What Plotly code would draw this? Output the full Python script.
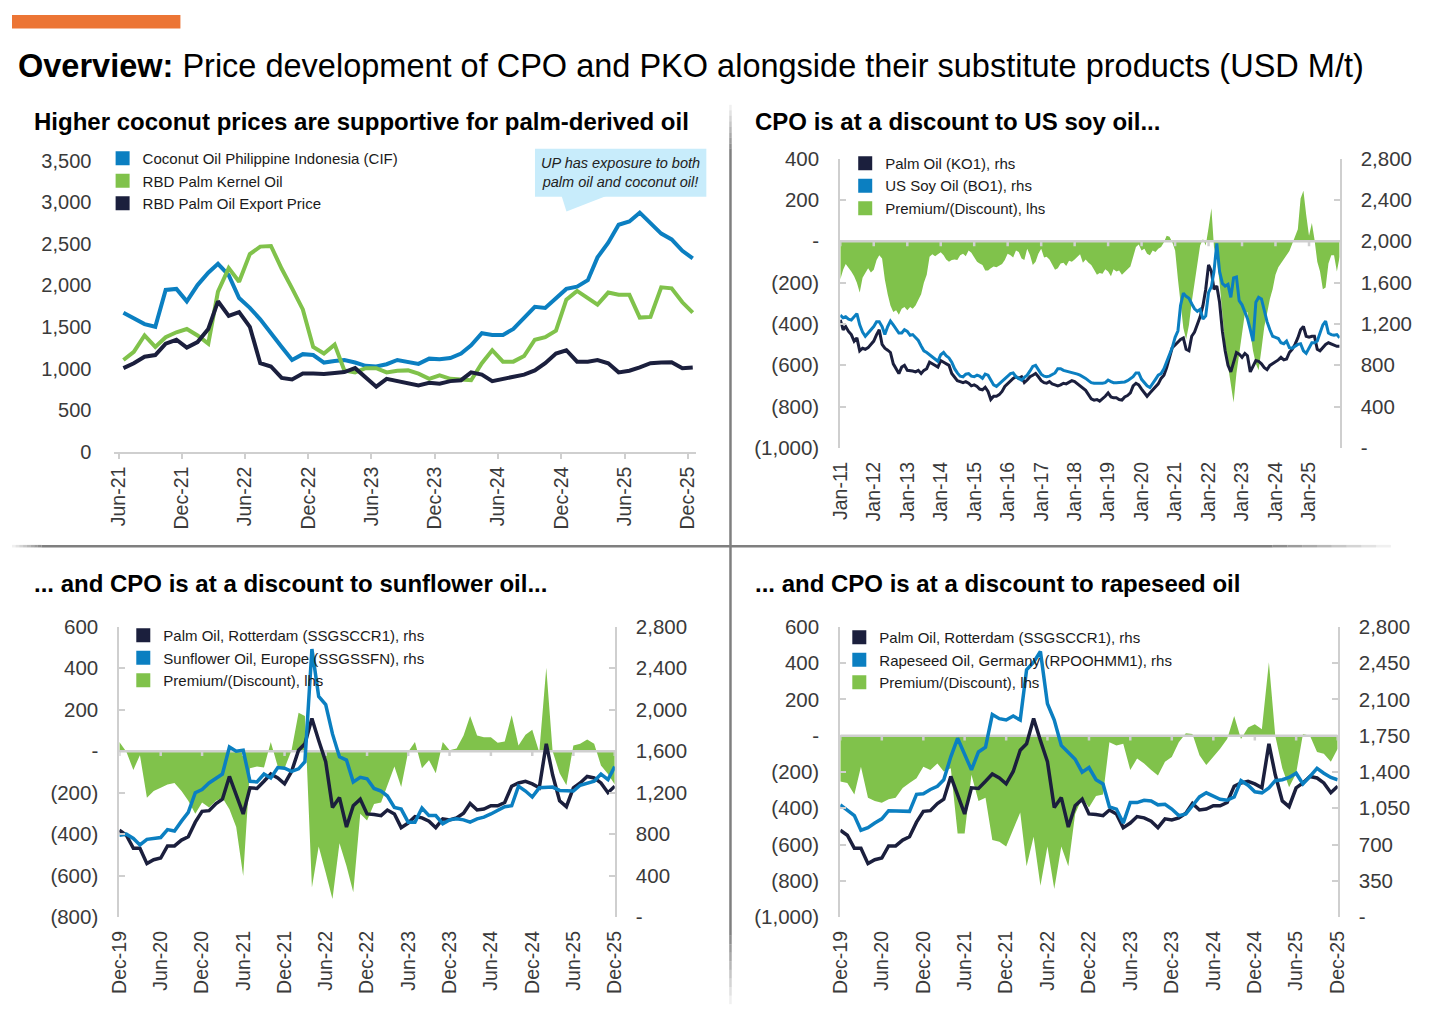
import pandas as pd
import plotly.graph_objects as go

W, H = 1456, 1020

NAVY = '#1b1f3d'
BLUE = '#0b7fc1'
GREEN = '#80c24b'
AXIS = '#cfcfcf'
TXT = '#3a3a3a'
FONT = 'Liberation Sans, Arial, sans-serif'

# chart 1 - monthly, Jun-21 .. Dec-25 (USD/t)
coconut_months = pd.date_range('2021-06-01', '2025-12-01', freq='MS') + pd.Timedelta(days=14)
coconut_ticks = pd.date_range('2021-06-01', '2025-12-01', freq='6MS')
coconut_oil = [1672, 1605, 1535, 1503, 1946, 1958, 1809, 2004, 2153, 2259, 2122, 1848, 1730, 1593, 1417,
               1261, 1104, 1174, 1163, 1073, 1092, 1104, 1073, 1034, 1026, 1053, 1104, 1077, 1057, 1120,
               1112, 1128, 1182, 1280, 1425, 1405, 1405, 1476, 1613, 1742, 1730, 1848, 1958, 1985, 2063,
               2337, 2513, 2729, 2768, 2874, 2756, 2623, 2553, 2416, 2325]
palm_kernel_oil = [1104, 1202, 1398, 1261, 1378, 1437, 1476, 1398, 1300, 1926, 2208, 2044, 2376, 2466, 2474,
                   2200, 1965, 1711, 1261, 1182, 1288, 979, 955, 1006, 1006, 955, 975, 979, 940, 877,
                   920, 877, 869, 861, 1065, 1221, 1084, 1084, 1151, 1347, 1378, 1456, 1828, 1934, 1848,
                   1770, 1914, 1887, 1887, 1613, 1621, 1977, 1965, 1797, 1672]
palm_oil_export = [1006, 1065, 1143, 1163, 1300, 1347, 1253, 1319, 1476, 1809, 1633, 1680, 1503, 1065, 1026,
                   889, 869, 940, 940, 936, 947, 959, 1006, 889, 783, 877, 850, 822, 799, 830,
                   818, 850, 861, 955, 928, 850, 877, 897, 928, 979, 1065, 1182, 1221, 1084, 1084,
                   1104, 1065, 955, 975, 1014, 1065, 1073, 1077, 1006, 1014]

# chart 2 - monthly, Jan-11 .. Dec-25
soy_months = pd.date_range('2011-01-01', '2025-12-01', freq='MS')
soy_ticks = pd.date_range('2011-01-01', '2025-01-01', freq='YS')
palm_ko1 = [1238, 1144, 1175, 1128, 1097, 1034, 1065, 940, 965, 955,
            971, 1002, 1034, 1097, 1144, 1002, 965, 946, 924, 814,
            767, 720, 783, 799, 751, 751, 745, 736, 751, 720,
            751, 767, 830, 814, 799, 783, 846, 830, 814, 799,
            720, 689, 651, 642, 632, 642, 626, 601, 610, 595,
            570, 563, 588, 547, 469, 500, 500, 516, 547, 595,
            620, 651, 673, 689, 673, 689, 632, 657, 689, 704,
            720, 689, 651, 632, 626, 642, 620, 610, 601, 610,
            626, 620, 632, 651, 642, 620, 601, 570, 557, 516,
            475, 463, 469, 453, 475, 500, 532, 494, 485, 485,
            469, 463, 494, 507, 532, 601, 626, 610, 570, 538,
            500, 532, 563, 595, 620, 673, 704, 777, 877, 971,
            996, 1028, 1050, 1065, 955, 940, 1081, 1122, 1191, 1269,
            1379, 1536, 1771, 1708, 1536, 1567, 1410, 1128, 940, 799,
            736, 830, 924, 908, 877, 915, 893, 736, 783, 846,
            839, 814, 777, 758, 799, 814, 830, 852, 877, 852,
            861, 924, 955, 1002, 1065, 1144, 1175, 1081, 1071, 1081,
            1081, 955, 940, 977, 1002, 1018, 1009, 993, 984, 984]
soy_bo1 = [1285, 1260, 1269, 1247, 1238, 1269, 1300, 1191, 1122, 1081,
           1112, 1153, 1175, 1222, 1222, 1175, 1097, 1175, 1228, 1191,
           1144, 1112, 1112, 1144, 1128, 1090, 1097, 1071, 1040, 987,
           940, 924, 902, 883, 861, 839, 902, 924, 893, 871,
           830, 767, 726, 695, 689, 714, 720, 695, 689, 704,
           695, 673, 714, 704, 657, 610, 595, 620, 642, 673,
           689, 720, 726, 689, 673, 657, 683, 704, 745, 789,
           799, 751, 714, 695, 689, 695, 714, 726, 767, 767,
           751, 745, 736, 726, 720, 714, 704, 689, 673, 651,
           632, 626, 626, 620, 626, 632, 657, 642, 632, 632,
           632, 632, 639, 651, 670, 689, 726, 726, 664, 626,
           601, 585, 620, 664, 704, 720, 767, 830, 893, 971,
           1071, 1134, 1379, 1498, 1467, 1448, 1395, 1347, 1322, 1341,
           1247, 1278, 1504, 1561, 1708, 1980, 1708, 1592, 1567, 1583,
           1457, 1646, 1655, 1426, 1385, 1316, 1253, 1144, 1034, 1410,
           1457, 1442, 1332, 1222, 1144, 1081, 1071, 1059, 1018, 1009,
           1034, 971, 965, 984, 1002, 1009, 940, 915, 971, 1018,
           1018, 1034, 1112, 1191, 1228, 1112, 1097, 1090, 1097, 1065]
soy_premium = [-185, -138, -110, -126, -146, -169, -201, -248, -177, -154,
               -130, -151, -138, -91, -67, -83, -185, -256, -311, -342,
               -334, -355, -326, -318, -334, -318, -326, -311, -282, -256,
               -201, -162, -75, -63, -72, -63, -53, -67, -88, -99,
               -91, -88, -91, -67, -60, -72, -44, -56, -75, -99,
               -107, -115, -141, -141, -130, -122, -126, -119, -110, -91,
               -60, -67, -78, -44, -52, -83, -91, -36, -67, -115,
               -99, -60, -36, -78, -75, -88, -115, -138, -130, -107,
               -104, -119, -94, -99, -88, -72, -63, -104, -88, -104,
               -115, -138, -162, -154, -157, -135, -146, -169, -135, -146,
               -141, -162, -146, -135, -122, -72, -28, -16, -44, -36,
               -60, -67, -44, -52, -36, -28, -5, 27, 22, -5,
               -44, -185, -311, -420, -475, -405, -295, -201, -91, -20,
               11, -20, 66, 160, -28, -83, -201, -350, -499, -601,
               -703, -780, -640, -538, -452, -350, -342, -436, -530, -593,
               -624, -522, -413, -350, -279, -232, -162, -126, -107, -83,
               -63, -47, -13, 19, 58, 207, 245, 129, 27, 89,
               11, -99, -146, -232, -224, -107, -67, -67, -146, -75]

# charts 3 and 4 - monthly, Dec-19 .. Dec-25
eu_months = pd.date_range('2019-12-01', '2025-12-01', freq='MS')
eu_ticks = pd.date_range('2019-12-01', '2025-12-01', freq='6MS')
palm_rotterdam = [838, 790, 664, 664, 516, 554, 570, 687, 687, 743,
                  775, 916, 1020, 1027, 1096, 1137, 1357, 1168, 995, 1247,
                  1241, 1310, 1380, 1342, 1285, 1405, 1609, 1672, 1915, 1704,
                  1499, 1058, 1153, 869, 1074, 1137, 995, 989, 979, 1033,
                  995, 863, 907, 970, 957, 926, 863, 948, 938, 957,
                  1002, 1096, 1033, 1042, 1074, 1074, 1105, 1263, 1294, 1310,
                  1285, 1247, 1672, 1373, 1121, 1065, 1247, 1294, 1357, 1342,
                  1294, 1200, 1263]
sunflower_oil = [790, 800, 759, 696, 750, 759, 768, 844, 831, 926,
                 1011, 1200, 1231, 1294, 1342, 1380, 1641, 1600, 1609, 1310,
                 1304, 1380, 1342, 1443, 1436, 1405, 1430, 1499, 2586, 2129,
                 2050, 1767, 1546, 1515, 1304, 1348, 1335, 1241, 1216, 1168,
                 1058, 1042, 916, 916, 1052, 979, 979, 901, 938, 948,
                 938, 916, 948, 964, 995, 1033, 1065, 1074, 1263, 1216,
                 1159, 1247, 1254, 1254, 1222, 1216, 1216, 1272, 1294, 1310,
                 1380, 1326, 1452]
sunflower_premium = [44, -3, -90, -19, -224, -192, -176, -161, -153, -192,
                     -239, -302, -247, -271, -239, -224, -280, -365, -602, -82,
                     -74, -79, 44, -74, -82, 5, 186, 170, -657, -460,
                     -586, -712, -444, -554, -680, -302, -334, -255, -247, -161,
                     -74, -173, -3, 44, -82, -43, -106, 44, 5, 13,
                     76, 170, 76, 68, 68, 41, 47, 173, 28, 79,
                     104, -5, 403, 0, -106, -164, 28, 36, 57, 36,
                     -69, -110, -161]
rapeseed_oil = [1083, 1033, 979, 838, 863, 907, 948, 1026, 1026, 1020,
                1020, 1184, 1190, 1231, 1262, 1325, 1546, 1725, 1561, 1420,
                1593, 1640, 1954, 1914, 1901, 1939, 1901, 2386, 2458, 2562,
                2058, 1901, 1656, 1593, 1523, 1398, 1442, 1325, 1284, 1064,
                1042, 907, 1105, 1105, 1127, 1121, 1083, 1089, 1042, 979,
                995, 1074, 1159, 1199, 1168, 1137, 1127, 1159, 1316, 1272,
                1209, 1199, 1247, 1316, 1325, 1347, 1388, 1284, 1357, 1435,
                1388, 1347, 1325]
rapeseed_premium = [-252, -261, -324, -171, -342, -360, -369, -351, -342, -288,
                    -261, -234, -171, -189, -153, -198, -180, -539, -539, -216,
                    -360, -342, -575, -584, -611, -521, -423, -719, -557, -827,
                    -611, -845, -611, -719, -432, -342, -396, -333, -324, -36,
                    -54, -45, -189, -126, -153, -189, -219, -144, -117, -36,
                    14, 9, -108, -162, -117, -72, -18, 108, -18, 45,
                    63, 36, 405, 0, -180, -284, -207, 9, 0, -90,
                    -99, -144, -72]


def num(v):
    return '-' if v == 0 else f'{v:,}'


def acct(v):
    if v == 0:
        return '-'
    return f'({-v:,})' if v < 0 else f'{v:,}'


def fx(x):
    return x / W


def fy(y):
    return 1 - y / H


def dom_x(a, b):
    return [fx(a), fx(b)]


def dom_y(top, bottom):
    return [fy(bottom), fy(top)]


def zero_rule(dates, ticks, tick_len):
    # zero line of the premium axis with the small date ticks hanging off it
    xs, ys = [dates[0], dates[-1]], [0, 0]
    for t in ticks:
        xs += [None, t, t]
        ys += [None, 0, -tick_len]
    return xs, ys


fig = go.Figure()

# ---- chart 1
for name, vals, col in [('Coconut Oil Philippine Indonesia (CIF)', coconut_oil, BLUE),
                        ('RBD Palm Kernel Oil', palm_kernel_oil, GREEN),
                        ('RBD Palm Oil Export Price', palm_oil_export, NAVY)]:
    fig.add_trace(go.Scatter(x=coconut_months, y=vals, mode='lines', line=dict(color=col, width=4),
                             showlegend=False, xaxis='x', yaxis='y'))

# ---- charts 2-4 (premium area on the left axis, prices on the right axis)
panels = [
    ('x2', 'y2', 'y3', 'legend2', soy_months, soy_ticks, soy_premium,
     [('Palm Oil (KO1), rhs', palm_ko1, NAVY), ('US Soy Oil (BO1), rhs', soy_bo1, BLUE)], [-1000, 400], 150, 446, 3),
    ('x3', 'y4', 'y5', 'legend3', eu_months, eu_ticks, sunflower_premium,
     [('Palm Oil, Rotterdam (SSGSCCR1), rhs', palm_rotterdam, NAVY),
      ('Sunflower Oil, Europe (SSGSSFN), rhs', sunflower_oil, BLUE)], [-800, 600], 629, 926, 3.5),
    ('x4', 'y6', 'y7', 'legend4', eu_months, eu_ticks, rapeseed_premium,
     [('Palm Oil, Rotterdam (SSGSCCR1), rhs', palm_rotterdam, NAVY),
      ('Rapeseed Oil, Germany (RPOOHMM1), rhs', rapeseed_oil, BLUE)], [-1000, 600], 629, 926, 3.5),
]
for xa, yl, yr, leg, dates, ticks, prem, lines, yrange, top, bottom, lw in panels:
    fig.add_trace(go.Scatter(x=dates, y=prem, mode='lines', fill='tozeroy', fillcolor=GREEN,
                             line=dict(width=0, color=GREEN), showlegend=False, xaxis=xa, yaxis=yl))
    tick_len = (yrange[1] - yrange[0]) / (bottom - top) * 5
    zx, zy = zero_rule(dates, ticks, tick_len)
    fig.add_trace(go.Scatter(x=zx, y=zy, mode='lines', line=dict(color=AXIS, width=2.5),
                             showlegend=False, xaxis=xa, yaxis=yl, hoverinfo='skip'))
    for name, vals, col in lines:
        fig.add_trace(go.Scatter(x=dates, y=vals, mode='lines', line=dict(color=col, width=lw),
                                 showlegend=False, xaxis=xa, yaxis=yr))
    for name, vals, col in lines + [('Premium/(Discount), lhs', None, GREEN)]:
        fig.add_trace(go.Scatter(x=[None], y=[None], mode='markers', name=name, legend=leg, legendgroup=leg + name,
                                 marker=dict(symbol='square', size=14, color=col), xaxis=xa, yaxis=yl))

for name, col in [('Coconut Oil Philippine Indonesia (CIF)', BLUE), ('RBD Palm Kernel Oil', GREEN),
                  ('RBD Palm Oil Export Price', NAVY)]:
    fig.add_trace(go.Scatter(x=[None], y=[None], mode='markers', name=name, legend='legend', legendgroup=name,
                             marker=dict(symbol='square', size=14, color=col), xaxis='x', yaxis='y'))

yfont1 = dict(family=FONT, size=20, color=TXT)
yfont = dict(family=FONT, size=20.5, color=TXT)
xfont = dict(family=FONT, size=19.5, color=TXT)


def date_axis(domain, anchor, rng, ticks, line):
    return dict(domain=domain, anchor=anchor, type='date', range=rng, tickvals=list(ticks),
                ticktext=[d.strftime('%b-%y') for d in ticks], tickangle=-90, tickfont=xfont,
                showgrid=False, zeroline=False, showline=line, linecolor=AXIS, linewidth=2,
                ticks='outside' if line else '', ticklen=5, tickcolor=AXIS, tickwidth=2,
                ticklabelstandoff=0 if line else 9)


def value_axis(vals, labels, rng, **kw):
    d = dict(range=rng, tickvals=vals, ticktext=labels, tickfont=yfont, showgrid=False, zeroline=False,
             showline=True, linecolor=AXIS, linewidth=2, ticks='inside', ticklen=6, tickcolor=AXIS,
             tickwidth=2, ticklabelstandoff=15)
    d.update(kw)
    return d


c1_y = list(range(0, 3501, 500))
c2_l = list(range(-1000, 401, 200))
c2_r = list(range(0, 2801, 400))
c3_l = list(range(-800, 601, 200))
c4_l = list(range(-1000, 601, 200))
c4_r = list(range(0, 2801, 350))

legend_style = dict(xanchor='left', yanchor='top', bgcolor='rgba(0,0,0,0)', tracegroupgap=0,
                    font=dict(family=FONT, size=15, color='#1a1a1a'), traceorder='normal')

fig.update_layout(
    width=W, height=H, margin=dict(l=0, r=0, t=0, b=0),
    paper_bgcolor='white', plot_bgcolor='white', font=dict(family=FONT),
    xaxis=date_axis(dom_x(104, 694), 'y', ['2021-05-20', '2025-12-23'], coconut_ticks, True),
    yaxis=dict(domain=dom_y(152, 450), anchor='x', range=[0, 3500], tickvals=c1_y,
               ticktext=[f'{v:,}' for v in c1_y], tickfont=yfont1, showgrid=False, zeroline=False,
               showline=False, ticks='', ticklabelstandoff=22),
    xaxis2=date_axis(dom_x(841, 1348), 'y2', [soy_months[0], soy_months[-1]], soy_ticks, False),
    yaxis2=value_axis(c2_l, [acct(v) for v in c2_l], [-1000, 400], domain=dom_y(150, 446), anchor='x2'),
    yaxis3=value_axis(c2_r, [num(v) for v in c2_r], [0, 2800], overlaying='y2', side='right', anchor='x2'),
    xaxis3=date_axis(dom_x(109, 612), 'y4', [eu_months[0], eu_months[-1]], eu_ticks, False),
    yaxis4=value_axis(c3_l, [acct(v) for v in c3_l], [-800, 600], domain=dom_y(629, 926), anchor='x3'),
    yaxis5=value_axis(c2_r, [num(v) for v in c2_r], [0, 2800], overlaying='y4', side='right', anchor='x3'),
    xaxis4=date_axis(dom_x(841, 1346), 'y6', [eu_months[0], eu_months[-1]], eu_ticks, False),
    yaxis6=value_axis(c4_l, [acct(v) for v in c4_l], [-1000, 600], domain=dom_y(629, 926), anchor='x4'),
    yaxis7=value_axis(c4_r, [num(v) for v in c4_r], [0, 2800], overlaying='y6', side='right', anchor='x4'),
    legend=dict(x=fx(92), y=fy(133), **legend_style),
    legend2=dict(x=fx(846), y=fy(138), **legend_style),
    legend3=dict(x=fx(113), y=fy(621), **legend_style),
    legend4=dict(x=fx(840), y=fy(623), **legend_style),
)

# titles
fig.add_annotation(text='<b>Overview:</b> Price development of CPO and PKO alongside their substitute products (USD M/t)',
                   x=fx(4), y=fy(55), xref='paper', yref='paper', xanchor='left', yanchor='middle',
                   showarrow=False, font=dict(family=FONT, size=32.5, color='black'))
for txt, px, py in [('Higher coconut prices are supportive for palm-derived oil', 20, 112),
                    ('CPO is at a discount to US soy oil...', 752, 112),
                    ('... and CPO is at a discount to sunflower oil...', 20, 585),
                    ('... and CPO is at a discount to rapeseed oil', 752, 585)]:
    fig.add_annotation(text=f'<b>{txt}</b>', x=fx(px), y=fy(py), xref='paper', yref='paper',
                       xanchor='left', yanchor='middle', showarrow=False,
                       font=dict(family=FONT, size=24, color='black'))

# callout
fig.add_shape(type='rect', xref='paper', yref='paper', x0=fx(531), x1=fx(705), y0=fy(189), y1=fy(140),
              fillcolor='#c8ecfb', line=dict(width=0))
fig.add_shape(type='path', xref='paper', yref='paper', fillcolor='#c8ecfb', line=dict(width=0),
              path=f'M {fx(558)} {fy(188)} L {fx(604)} {fy(188)} L {fx(563)} {fy(204)} Z')
fig.add_annotation(text='<i>UP has exposure to both<br>palm oil and coconut oil!</i>', x=fx(618), y=fy(164.5),
                   xref='paper', yref='paper', xanchor='center', yanchor='middle', showarrow=False,
                   font=dict(family=FONT, size=14.5, color='#222'))

# orange header bar
fig.add_shape(type='rect', xref='paper', yref='paper', x0=fx(0), x1=fx(171), y0=fy(17), y1=fy(3),
              fillcolor='#ec7535', line=dict(width=0))


# fading divider lines between the panels
def fade_line(x0, y0, x1, y1, fade_a, fade_b, n=8):
    horiz = y0 == y1
    length = (x1 - x0) if horiz else (y1 - y0)
    pieces = []
    for i in range(n):
        pieces.append((fade_a * i / n, fade_a * (i + 1) / n, (i + 1) / (n + 1)))
    pieces.append((fade_a, length - fade_b, 1.0))
    for i in range(n):
        pieces.append((length - fade_b * (n - i) / n, length - fade_b * (n - i - 1) / n, (n - i) / (n + 1)))
    for a, b, op in pieces:
        if horiz:
            c = dict(x0=fx(x0 + a), x1=fx(x0 + b), y0=fy(y0), y1=fy(y0))
        else:
            c = dict(x0=fx(x0), x1=fx(x0), y0=fy(y0 + a), y1=fy(y0 + b))
        fig.add_shape(type='line', xref='paper', yref='paper', line=dict(color='#7f7f7f', width=2.5),
                      opacity=op, **c)


fade_line(729.5, 95, 729.5, 1015, 45, 70)
fade_line(0, 546.5, 1400, 546.5, 30, 120)

page_reset = ("var s=document.createElement('style');"
              "s.innerHTML='html,body{margin:0 !important;padding:0 !important;overflow:hidden !important}';"
              "document.head.appendChild(s);")
fig.write_html('out.html', config={'displayModeBar': False}, post_script=page_reset)
